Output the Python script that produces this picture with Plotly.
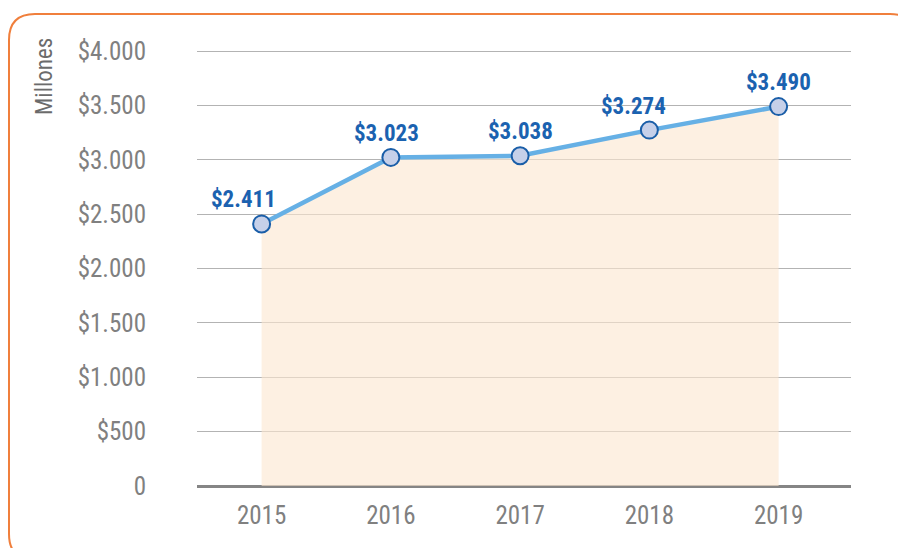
import plotly.graph_objects as go

years = ["2015", "2016", "2017", "2018", "2019"]
values = [2411, 3023, 3038, 3274, 3490]
value_labels = ["$2.411", "$3.023", "$3.038", "$3.274", "$3.490"]
y_tickvals = [0, 500, 1000, 1500, 2000, 2500, 3000, 3500, 4000]
y_ticktext = ["0", "$500", "$1.000", "$1.500", "$2.000", "$2.500", "$3.000", "$3.500", "$4.000"]
label_xshift = [-18, -4, 0, -16, 0]

W, H = 898, 548
L, R, T, B = 197, 47, 49, 62
pw, ph = W - L - R, H - T - B

def px(x):
    return (x - L) / pw

def py(y):
    return (H - B - y) / ph

FONT = "Roboto Condensed, Liberation Sans Narrow, Roboto, sans-serif"

fig = go.Figure()
fig.add_trace(go.Scatter(
    x=years, y=values, mode="lines+markers",
    fill="tozeroy", fillcolor="rgba(252,230,208,0.62)",
    line=dict(color="#66B0E5", width=4.5),
    marker=dict(size=17, color="#C6D0E9", line=dict(color="#1A5EA8", width=2)),
    hoverinfo="skip", showlegend=False,
))

for i, (v, t, xs) in enumerate(zip(values, value_labels, label_xshift)):
    fig.add_annotation(x=i, y=v, text=t, showarrow=False, yshift=24, xshift=xs,
                       xanchor="center", yanchor="middle",
                       font=dict(family=FONT, size=23, color="#1B62B0", weight="bold"))

# rounded border (extends past the right and bottom edges of the picture)
x0, x1, y0, y1, r = 9, 916, 14, 560, 26
path = (f"M {px(x0+r)} {py(y0)} L {px(x1-r)} {py(y0)} Q {px(x1)} {py(y0)} {px(x1)} {py(y0+r)} "
        f"L {px(x1)} {py(y1-r)} Q {px(x1)} {py(y1)} {px(x1-r)} {py(y1)} "
        f"L {px(x0+r)} {py(y1)} Q {px(x0)} {py(y1)} {px(x0)} {py(y1-r)} "
        f"L {px(x0)} {py(y0+r)} Q {px(x0)} {py(y0)} {px(x0+r)} {py(y0)} Z")
fig.add_shape(type="path", path=path, xref="paper", yref="paper",
              line=dict(color="#F07F3C", width=2), layer="above")

fig.add_annotation(x=px(44), y=py(77), xref="paper", yref="paper", text="Millones",
                   textangle=-90, showarrow=False, xanchor="center", yanchor="middle",
                   font=dict(family=FONT, size=23, color="#6B6B6B"))

fig.update_layout(
    width=W, height=H, margin=dict(l=L, r=R, t=T, b=B),
    paper_bgcolor="white", plot_bgcolor="white",
    font=dict(family=FONT, color="#808080"),
    xaxis=dict(type="category", range=[-0.5, 4.56], showgrid=False, zeroline=False,
               showline=False, ticks="", tickfont=dict(size=25, color="#808080"),
               ticklabelstandoff=12),
    yaxis=dict(range=[0, 4020], tickvals=y_tickvals, ticktext=y_ticktext,
               showgrid=True, gridcolor="#B3B3B3", gridwidth=1,
               zeroline=True, zerolinecolor="#858585", zerolinewidth=2.5,
               showline=False, ticks="", tickfont=dict(size=25, color="#808080"),
               ticklabelstandoff=50),
)

fig.write_html("out.html")
